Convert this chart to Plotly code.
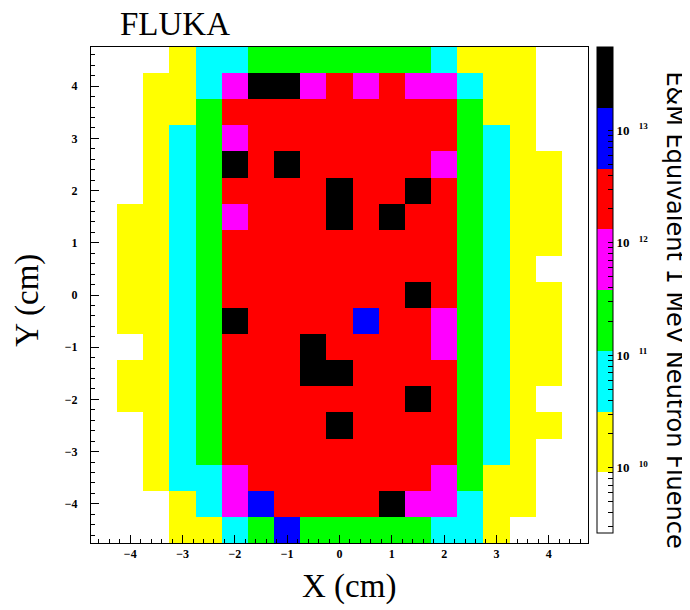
import math
import plotly.graph_objects as go

# ---------------- data ----------------
# bin centres (cm)
x_centers = [-4.5, -4.0, -3.5, -3.0, -2.5, -2.0, -1.5, -1.0, -0.5, 0.0,
             0.5, 1.0, 1.5, 2.0, 2.5, 3.0, 3.5, 4.0, 4.5]
y_centers_top_down = [4.5, 4.0, 3.5, 3.0, 2.5, 2.0, 1.5, 1.0, 0.5, 0.0,
                      -0.5, -1.0, -1.5, -2.0, -2.5, -3.0, -3.5, -4.0, -4.5]

# fluence per bin in units of 1e10 (rows from top y=4.5 to bottom y=-4.5); 0 = empty bin
fluence_rows_1e10 = [
    [0, 0, 0, 2, 6, 6, 20, 20, 20, 20, 20, 20, 20, 6, 2, 2, 2, 0, 0],
    [0, 0, 2, 2, 6, 70, 3000, 3000, 70, 250, 70, 250, 70, 70, 6, 2, 2, 0, 0],
    [0, 0, 2, 2, 20, 250, 250, 250, 250, 250, 250, 250, 250, 250, 20, 2, 2, 0, 0],
    [0, 0, 2, 6, 20, 70, 250, 250, 250, 250, 250, 250, 250, 250, 20, 6, 2, 0, 0],
    [0, 0, 2, 6, 20, 3000, 250, 3000, 250, 250, 250, 250, 250, 70, 20, 6, 2, 2, 0],
    [0, 0, 2, 6, 20, 250, 250, 250, 250, 3000, 250, 250, 3000, 250, 20, 6, 2, 2, 0],
    [0, 2, 2, 6, 20, 70, 250, 250, 250, 3000, 250, 3000, 250, 250, 20, 6, 2, 2, 0],
    [0, 2, 2, 6, 20, 250, 250, 250, 250, 250, 250, 250, 250, 250, 20, 6, 2, 2, 0],
    [0, 2, 2, 6, 20, 250, 250, 250, 250, 250, 250, 250, 250, 250, 20, 6, 2, 0, 0],
    [0, 2, 2, 6, 20, 250, 250, 250, 250, 250, 250, 250, 3000, 250, 20, 6, 2, 2, 0],
    [0, 2, 2, 6, 20, 3000, 250, 250, 250, 250, 800, 250, 250, 70, 20, 6, 2, 2, 0],
    [0, 0, 2, 6, 20, 250, 250, 250, 3000, 250, 250, 250, 250, 70, 20, 6, 2, 2, 0],
    [0, 2, 2, 6, 20, 250, 250, 250, 3000, 3000, 250, 250, 250, 250, 20, 6, 2, 2, 0],
    [0, 2, 2, 6, 20, 250, 250, 250, 250, 250, 250, 250, 3000, 250, 20, 6, 2, 0, 0],
    [0, 0, 2, 6, 20, 250, 250, 250, 250, 3000, 250, 250, 250, 250, 20, 6, 2, 2, 0],
    [0, 0, 2, 6, 20, 250, 250, 250, 250, 250, 250, 250, 250, 250, 20, 6, 2, 0, 0],
    [0, 0, 2, 6, 6, 70, 250, 250, 250, 250, 250, 250, 250, 70, 20, 2, 2, 0, 0],
    [0, 0, 0, 2, 6, 70, 800, 250, 250, 250, 250, 3000, 70, 70, 6, 2, 2, 0, 0],
    [0, 0, 0, 2, 2, 6, 20, 800, 20, 20, 20, 20, 20, 6, 6, 2, 0, 0, 0],
]
FLUENCE_UNIT = 1e10

# colour-scale range (log10 of fluence) and palette bands
z_log_min = 9.42
z_log_max = 13.74
band_colors = ["#ffffff", "#ffff00", "#00ffff", "#00ff00",
               "#ff00ff", "#ff0000", "#0000ff", "#000000"]
colorbar_decades = [10, 11, 12, 13]

# ---------------- build ----------------
y_centers = y_centers_top_down[::-1]
z_log = []
for row in fluence_rows_1e10[::-1]:
    z_log.append([math.log10(v * FLUENCE_UNIT) if v > 0 else None for v in row])

n = len(band_colors)
colorscale = []
for i, c in enumerate(band_colors):
    colorscale.append([i / n, c])
    colorscale.append([(i + 1) / n, c])

tickvals, ticktext = [], []
for d in range(9, 14):
    for k in range(1, 10):
        v = d + math.log10(k)
        if z_log_min <= v <= z_log_max:
            tickvals.append(v)
            ticktext.append(f"10\u2002\u2009<sup>{d}</sup>" if (k == 1 and d in colorbar_decades) else "")

serif = "Liberation Serif"

fig = go.Figure(go.Heatmap(
    x=x_centers, y=y_centers, z=z_log,
    zmin=z_log_min, zmax=z_log_max,
    colorscale=colorscale,
    hoverongaps=False,
    colorbar=dict(
        x=1.018, xanchor="left", xref="paper", xpad=0,
        y=1.0, yanchor="top", yref="paper", ypad=0,
        len=0.98, lenmode="fraction",
        thickness=16,
        outlinewidth=1, outlinecolor="black",
        tickmode="array", tickvals=tickvals, ticktext=ticktext,
        ticks="inside", ticklen=5, tickcolor="black", tickwidth=1,
        tickfont=dict(family=serif, size=13, color="black", weight="bold"),
    ),
))

axis_common = dict(
    range=[-4.75, 4.75],
    showgrid=False, zeroline=False,
    showline=True, linecolor="black", linewidth=1, mirror=True,
    ticks="inside", ticklen=8, tickcolor="black", tickwidth=1,
    tickmode="array", tickvals=[-4, -3, -2, -1, 0, 1, 2, 3, 4],
    tickfont=dict(family=serif, size=12, color="black", weight="bold"),
    minor=dict(ticks="inside", ticklen=4, tickcolor="black", dtick=0.2, tick0=0, showgrid=False),
)

fig.update_layout(
    width=690, height=610,
    margin=dict(l=83, r=110, t=39, b=75),
    paper_bgcolor="white", plot_bgcolor="white",
    xaxis=dict(**axis_common),
    yaxis=dict(**axis_common, ticklabelstandoff=10),
    showlegend=False,
    annotations=[
        dict(text="FLUKA", xref="paper", yref="paper", x=0.054, y=1.047,
             xanchor="left", yanchor="middle", showarrow=False,
             font=dict(family=serif, size=33, color="black")),
        dict(text="X (cm)", xref="paper", yref="paper", x=0.519, y=-0.087,
             xanchor="center", yanchor="middle", showarrow=False,
             font=dict(family=serif, size=33, color="black")),
        dict(text="Y (cm)", xref="paper", yref="paper", x=-0.127, y=0.49,
             xanchor="center", yanchor="middle", showarrow=False, textangle=-90,
             font=dict(family=serif, size=33, color="black")),
        dict(text="E&amp;M Equivalent 1 MeV Neutron Fluence", xref="paper", yref="paper",
             x=1.176, y=0.47, xanchor="center", yanchor="middle", showarrow=False,
             textangle=90,
             font=dict(family="DejaVu Sans", size=24, color="black")),
    ],
)

fig.write_html("out.html")
